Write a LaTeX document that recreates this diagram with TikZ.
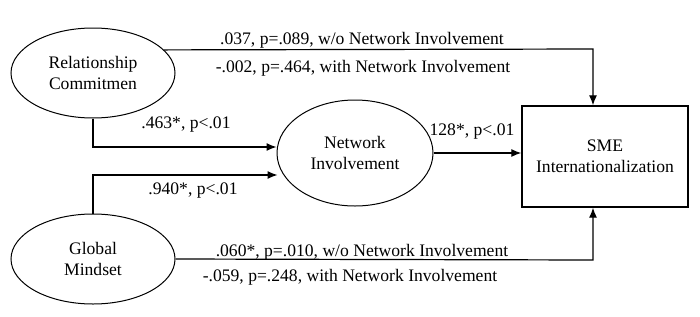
\documentclass[tikz,border=0pt]{standalone}
\usepackage{fontspec}
\setmainfont{Liberation Serif}
\usetikzlibrary{shapes.geometric,arrows.meta}
\begin{document}
\begin{tikzpicture}[x=1pt,y=-1pt,
  every node/.style={font=\fontsize{17.6}{20.5}\selectfont},
  latent/.style={draw, ellipse, line width=1pt, inner sep=0pt, align=center},
  outbox/.style={draw, rectangle, line width=1.4pt, inner sep=0pt, align=center},
  conn/.style={line width=1.2pt, -{Latex[length=10pt,width=8pt]}},
  lbl/.style={inner sep=0pt, anchor=center}]
\useasboundingbox (0,0) rectangle (700,316);
\node[latent, minimum width=164pt, minimum height=90pt] (rc) at (93,73) {Relationship\\Commitmen};
\node[latent, minimum width=156pt, minimum height=106pt] (ni) at (355,153) {Network\\Involvement};
\node[latent, minimum width=164pt, minimum height=90pt] (gm) at (93,259) {Global\\Mindset};
\node[outbox, minimum width=166pt, minimum height=101pt] (sme) at (605,156.5) {SME\\Internationalization};
\coordinate (t1) at (593,49);
\coordinate (b1) at (593,260);
\draw[conn] (rc.18) -- (t1) -- (t1 |- sme.north);
\draw[conn] (gm.east) -- (b1) -- (b1 |- sme.south);
\draw[conn] (rc.south) |- ([yshift=6pt]ni.west);
\draw[conn] (gm.north) |- ([yshift=-22pt,xshift=1pt]ni.west);
\draw[conn] (ni.east) -- (ni.east -| sme.west);
\node[lbl] (l1) at (362,40) {.037, p=.089, w/o Network Involvement};
\node[lbl] (l2) at (363,68) {-.002, p=.464, with Network Involvement};
\node[lbl] (l3) at (186,125) {.463*, p<.01};
\node[lbl] (l4) at (193,191) {.940*, p<.01};
\node[lbl] (l5) at (472,132) {128*, p<.01};
\node[lbl] (l6) at (362,252) {.060*, p=.010, w/o Network Involvement};
\node[lbl] (l7) at (350,277) {-.059, p=.248, with Network Involvement};
\end{tikzpicture}
\end{document}
